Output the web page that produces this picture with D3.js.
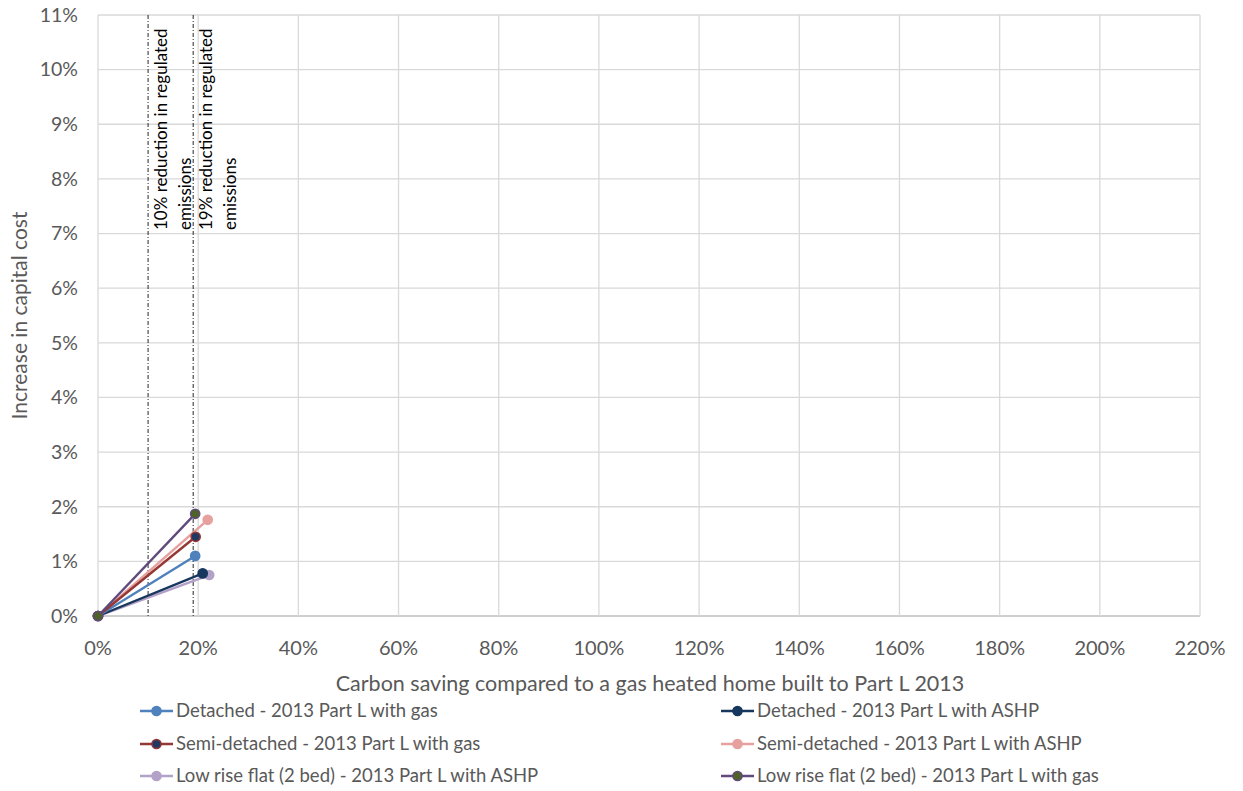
<!DOCTYPE html>
<html><head><meta charset="utf-8">
<script src="https://cdn.jsdelivr.net/npm/d3@7"></script>
<style>
html,body{margin:0;padding:0;background:#fff;}
text{font-family:Lato,"Open Sans",sans-serif;fill:#595959;}
</style></head>
<body>
<svg id="chart" width="1243" height="791"></svg>
<script>
// ---- data ----
const seriesNames = [
  "Detached - 2013 Part L with gas",
  "Detached - 2013 Part L with ASHP",
  "Semi-detached - 2013 Part L with gas",
  "Semi-detached - 2013 Part L with ASHP",
  "Low rise flat (2 bed) - 2013 Part L with ASHP",
  "Low rise flat (2 bed) - 2013 Part L with gas"
];
const carbonSaving = [ // x values (fraction)
  [0, 0.194],
  [0, 0.209],
  [0, 0.195],
  [0, 0.219],
  [0, 0.222],
  [0, 0.194]
];
const capitalCostIncrease = [ // y values (fraction)
  [0, 0.0110],
  [0, 0.0078],
  [0, 0.0145],
  [0, 0.0176],
  [0, 0.0075],
  [0, 0.0187]
];
const lineColors   = ["#4F81BD","#17375E","#953735","#E6A19F","#B3A2C7","#604A7B"];
const markerFills  = ["#4F81BD","#17375E","#1F3864","#E6A19F","#B3A2C7","#4F6228"];
const markerStroke = ["#4F81BD","#17375E","#953735","#E6A19F","#B3A2C7","#604A7B"];
const drawOrder = [4,1,0,3,2,5];
const xTicks = [0,0.2,0.4,0.6,0.8,1.0,1.2,1.4,1.6,1.8,2.0,2.2];
const yTicks = [0,0.01,0.02,0.03,0.04,0.05,0.06,0.07,0.08,0.09,0.10,0.11];
const refLines = [0.10, 0.19];
const refLabels = [["10% reduction in regulated","emissions"],["19% reduction in regulated","emissions"]];
const xTitle = "Carbon saving compared to a gas heated home built to Part L 2013";
const yTitle = "Increase in capital cost";

// ---- layout ----
const svg = d3.select("#chart");
const L = 98, R = 1200, T = 15, B = 616;
const x = d3.scaleLinear().domain([0,2.2]).range([L,R]);
const y = d3.scaleLinear().domain([0,0.11]).range([B,T]);
const pct = d3.format(".0%");

// gridlines
svg.append("g").selectAll("line").data(yTicks).join("line")
  .attr("x1",L).attr("x2",R).attr("y1",d=>y(d)).attr("y2",d=>y(d))
  .attr("stroke",d=>d===0?"#BFBFBF":"#D9D9D9").attr("stroke-width",1.3);
svg.append("g").selectAll("line").data(xTicks).join("line")
  .attr("y1",T).attr("y2",B).attr("x1",d=>x(d)).attr("x2",d=>x(d))
  .attr("stroke","#D9D9D9").attr("stroke-width",1.3);

// axes labels
svg.append("g").selectAll("text").data(yTicks).join("text")
  .attr("x",78).attr("y",d=>y(d)).attr("dy","0.35em").attr("text-anchor","end")
  .style("font-size","19.5px").text(pct);
svg.append("g").selectAll("text").data(xTicks).join("text")
  .attr("x",d=>x(d)).attr("y",648).attr("dy","0.35em").attr("text-anchor","middle")
  .style("font-size","20px").text(pct);
svg.append("text").attr("x",(L+R)/2+1).attr("y",683).attr("dy","0.35em")
  .attr("text-anchor","middle").style("font-size","21.5px").text(xTitle);
svg.append("text").attr("transform",`translate(20,${(T+B)/2}) rotate(-90)`)
  .attr("dy","0.35em").attr("text-anchor","middle").style("font-size","21px").text(yTitle);

// reference lines
refLines.forEach((v,i)=>{
  svg.append("line").attr("x1",x(v)).attr("x2",x(v)).attr("y1",T).attr("y2",B)
    .attr("stroke","#262626").attr("stroke-width",1).attr("stroke-dasharray","4,2,1,2");
  const g = svg.append("text").attr("transform",`translate(${x(v)},230) rotate(-90)`)
    .style("font-size","17px").style("fill","#000");
  refLabels[i].forEach((t,j)=>{
    g.append("tspan").attr("x",0).attr("y", 13 + 24*j).attr("dy","0.35em").text(t);
  });
});

// series
const line = d3.line().x(d=>x(d[0])).y(d=>y(d[1]));
drawOrder.forEach(i=>{
  const pts = carbonSaving[i].map((xv,k)=>[xv,capitalCostIncrease[i][k]]);
  svg.append("path").attr("d",line(pts)).attr("fill","none")
    .attr("stroke",lineColors[i]).attr("stroke-width",2.4);
  svg.append("g").selectAll("circle").data(pts).join("circle")
    .attr("cx",d=>x(d[0])).attr("cy",d=>y(d[1])).attr("r",4.6)
    .attr("fill",markerFills[i]).attr("stroke",markerStroke[i]).attr("stroke-width",1.5);
});

// legend
const legX = [140, 721], legY = [711, 744, 776];
seriesNames.forEach((name,i)=>{
  const lx = legX[i%2], ly = legY[Math.floor(i/2)];
  const g = svg.append("g");
  g.append("line").attr("x1",lx).attr("x2",lx+33).attr("y1",ly).attr("y2",ly)
    .attr("stroke",lineColors[i]).attr("stroke-width",2.4);
  g.append("circle").attr("cx",lx+16.5).attr("cy",ly).attr("r",4.6)
    .attr("fill",markerFills[i]).attr("stroke",markerStroke[i]).attr("stroke-width",1.5);
  g.append("text").attr("x",lx+36).attr("y",ly).attr("dy","0.35em")
    .style("font-size","18.5px").text(name);
});
</script>
</body></html>
